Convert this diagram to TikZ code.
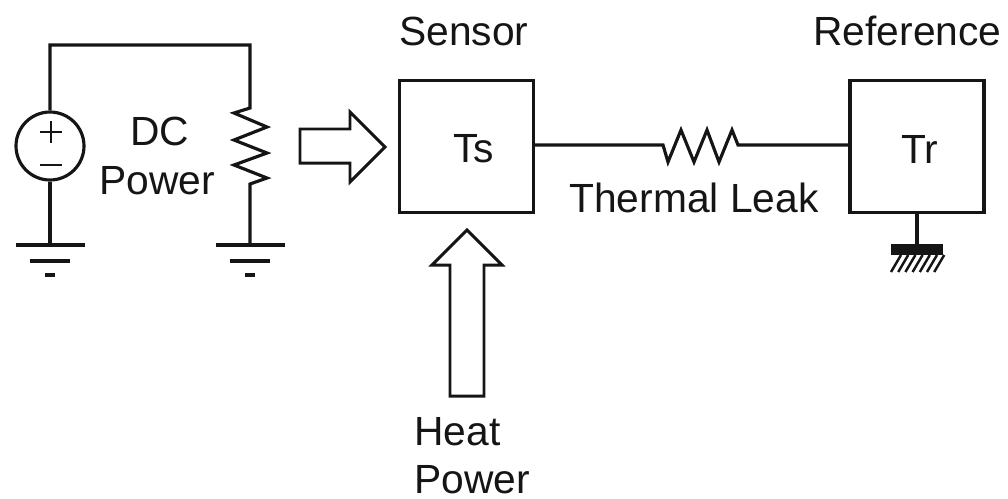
\documentclass[tikz,border=0pt]{standalone}
\usepackage{fontspec}
\setmainfont{Liberation Sans}
\usetikzlibrary{calc}
\definecolor{ink}{HTML}{151515}
\tikzset{
  wire/.style={ink,line width=1.8pt,line join=miter},
  thinwire/.style={ink,line width=1.5pt},
  tempbox/.style={draw=ink,line width=1.8pt,minimum width=2.68cm,minimum height=2.64cm,inner sep=0pt},
  lbl/.style={text=ink,font=\fontsize{23.2}{28}\selectfont,inner sep=0pt},
  blockarrow/.style={draw=ink,line width=1.7pt,fill=white,line join=miter},
}
\begin{document}
\begin{tikzpicture}[x=0.02cm,y=-0.02cm]
  \useasboundingbox (0,0) rectangle (1008,498);
  % boxes, all positions in reference pixels
  \node[tempbox] (sensor) at (466.5,146.5) {};
  \node[tempbox] (refbox) at (917,146.5) {};
  \node[lbl] (ts) at (473.5,149) {T{}s};
  \node[lbl] (tr) at (920,149) {Tr};
  \node[lbl] (sensorlbl) at (464,31) {Sensor};
  \node[lbl] (reflbl) at (907.5,31) {Reference};
  \node[lbl] (leaklbl) at (694,198) {Thermal Leak};
  \node[lbl] (dclbl) at (160,131) {DC};
  \node[lbl] (powerlbl) at (157,181) {Power};
  \node[lbl,anchor=west] (heatlbl) at (414,432) {Heat};
  \node[lbl,anchor=west] (heatpower) at (414,480) {Power};

  % the source and its loop
  \node[draw=ink,line width=1.8pt,circle,minimum size=1.36cm,inner sep=0pt] (source) at (50,146) {};
  \coordinate (rtop) at (250,108);
  \coordinate (rbot) at (250,184);
  \coordinate (gndA) at (50,245);
  \coordinate (gndB) at (250,245);
  \draw[wire] (source.north) -- (50,45) -- (250,45) -- (rtop)
    -- (234,113) -- (267,127) -- (234,140) -- (267,153) -- (234,165) -- (267,178) -- (rbot) -- (gndB);
  \draw[wire] (source.south) -- (gndA);
  \draw[thinwire] (40,132) -- (62,132) (51,121) -- (51,143);
  \draw[thinwire] (40,165) -- (62,165);
  % two grounds
  \foreach \g in {gndA,gndB}{
    \draw[wire] ($(\g)+(-34,0)$) -- ($(\g)+(35,0)$);
    \draw[wire] ($(\g)+(-20,16)$) -- ($(\g)+(20,16)$);
    \draw[wire] ($(\g)+(-5,30)$) -- ($(\g)+(5,30)$);
  }

  % the thermal leak
  \coordinate (leakin) at (663,145);
  \coordinate (leakout) at (738,145);
  \draw[wire] (sensor.east |- leakin) -- (leakin) -- (668,162) -- (681,130) -- (694,162)
    -- (707,130) -- (719,162) -- (732,130) -- (leakout) -- (refbox.west |- leakout);

  % mount under the reference
  \coordinate (mount) at (917,244);
  \draw[wire] (refbox.south) -- (mount);
  \fill[ink] (891,244) rectangle (943,255);
  \foreach \k in {0,...,6}{
    \draw[ink,line width=1.4pt] (891+7.2*\k,272) -- (901+7.2*\k,255);
  }

  % heat arrows
  \draw[blockarrow] (300,129) -- (350,129) -- (350,112) -- (385,147) -- (350,182) -- (350,163) -- (300,163) -- cycle;
  \draw[blockarrow] (450,396) -- (450,265) -- (432,265) -- (467,230) -- (502,265) -- (484,265) -- (484,396) -- cycle;
\end{tikzpicture}
\end{document}
